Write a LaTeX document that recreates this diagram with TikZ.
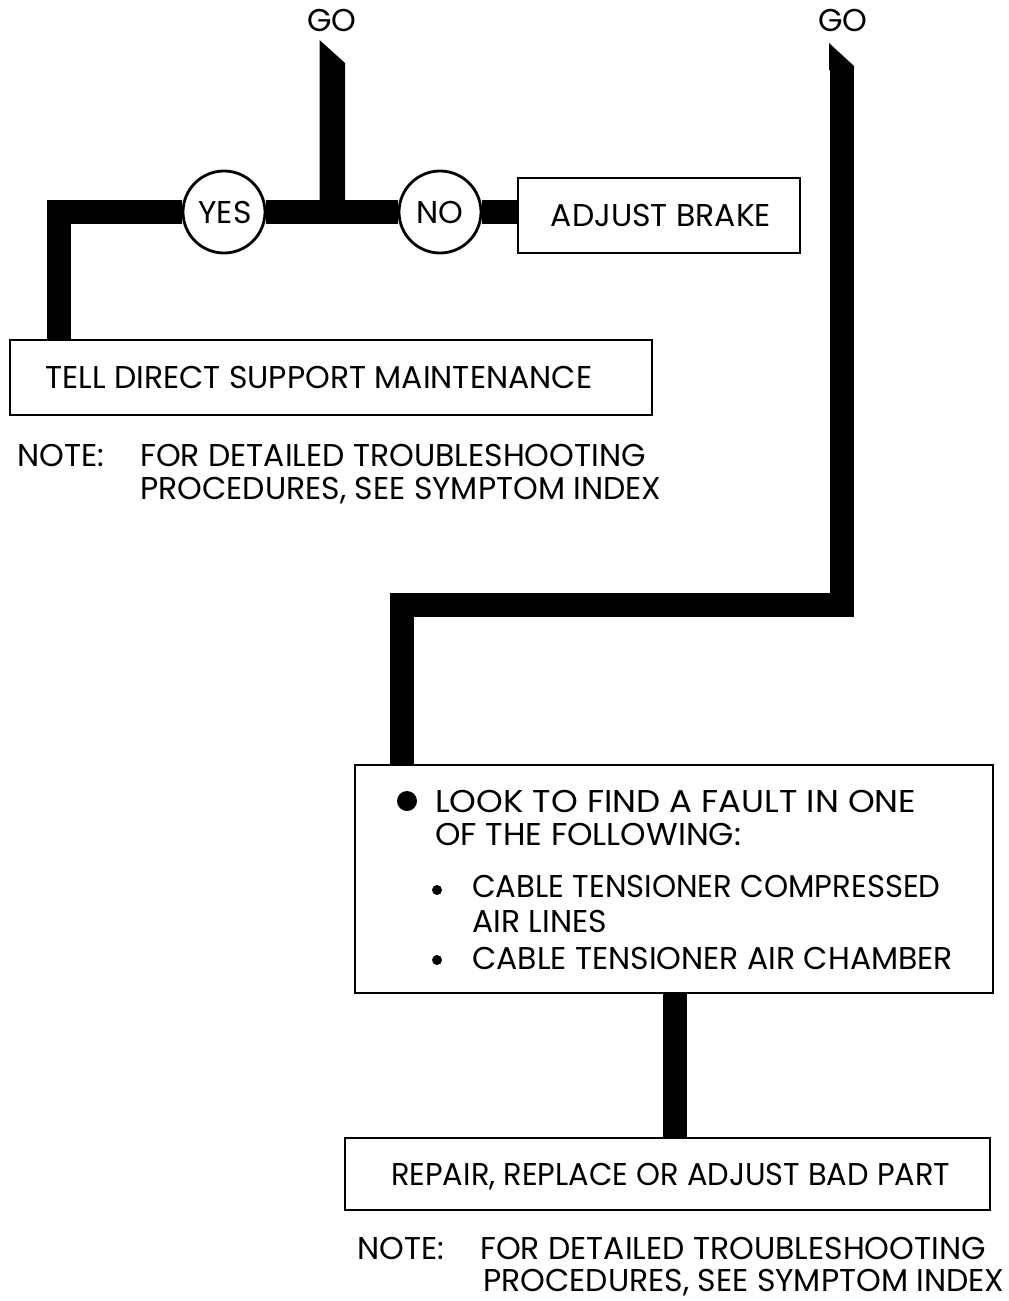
\documentclass[tikz,border=0pt]{standalone}
\usepackage{fontspec}
\setmainfont{Poppins}
\usetikzlibrary{backgrounds}
\begin{document}
\begin{tikzpicture}[x=1pt,y=-1pt,
  boxnode/.style={draw, line width=2.8pt, fill=white, inner sep=0pt, rectangle},
  circnode/.style={draw, line width=2.8pt, fill=white, circle, minimum size=82pt, inner sep=0pt},
  conn/.style={line width=24pt, line join=miter, line cap=butt},
  txt/.style={inner sep=0pt, font=\fontsize{31.5}{36}\selectfont},
  bigdot/.style={fill, circle, inner sep=0pt, minimum size=20pt},
  smalldot/.style={fill, circle, inner sep=0pt, minimum size=10pt}]
\useasboundingbox (0,0) rectangle (1009,1301);

% boxes
\node[boxnode, minimum width=282pt, minimum height=75pt] (adj) at (659,215.5) {};
\node[boxnode, minimum width=642pt, minimum height=75pt] (tell) at (331,377.5) {};
\node[boxnode, minimum width=638pt, minimum height=228pt] (look) at (674,879) {};
\node[boxnode, minimum width=645pt, minimum height=72pt] (repair) at (667.5,1174) {};
\node[circnode] (yes) at (224,212) {};
\node[circnode] (no) at (440,212) {};

% connectors
\coordinate (lc) at (59,212);
\coordinate (g1a) at (319.5,40);
\coordinate (g1b) at (345,63);
\coordinate (g1c) at (345,212);
\coordinate (g1d) at (319.5,212);
\coordinate (g2a) at (829,43);
\coordinate (g2b) at (854,66);
\coordinate (g2c) at (854,70);
\coordinate (g2d) at (829,70);
\coordinate (g2top) at (841.5,66);
\coordinate (g2turn) at (841.5,605);
\coordinate (g2bend) at (402,605);
\begin{scope}[on background layer]
\draw[conn] (tell.north -| lc) -- (lc) -- (yes) -- (no) -- (adj.west |- no);
\fill (g1a) -- (g1b) -- (g1c) -- (g1d) -- cycle;
\fill (g2a) -- (g2b) -- (g2c) -- (g2d) -- cycle;
\draw[conn] (g2top) -- (g2turn) -- (g2bend) -- (g2bend |- look.north);
\draw[conn] (look.south -| 675,0) -- (repair.north -| 675,0);
\end{scope}

% texts
\node[txt, anchor=base] (go1) at (332,31) {GO};
\node[txt, anchor=base] (go2) at (843,31) {GO};
\node[txt, anchor=base] (yest) at (225,223) {YES};
\node[txt, anchor=base] (not) at (440,223) {NO};
\node[txt, anchor=base] (adjt) at (661,226) {ADJUST BRAKE};
\node[txt, anchor=base west] (tellt) at (45,388) {TELL DIRECT SUPPORT MAINTENANCE};
\node[txt, anchor=base west] (n1a) at (17,466) {NOTE:};
\node[txt, anchor=base west] (n1b) at (140,466) {FOR DETAILED TROUBLESHOOTING};
\node[txt, anchor=base west] (n1c) at (140,499) {PROCEDURES, SEE SYMPTOM INDEX};
\node[bigdot] (bd) at (407,801) {};
\node[txt, anchor=base west] (l1) at (435,812) {\scalebox{1.08}[1]{LOOK TO FIND A FAULT IN ONE}};
\node[txt, anchor=base west] (l2) at (435,845) {\scalebox{1.03}[1]{OF THE FOLLOWING:}};
\node[smalldot] (sd1) at (437,890) {};
\node[txt, anchor=base west] (l3) at (472,897) {\scalebox{0.975}[1]{CABLE TENSIONER COMPRESSED}};
\node[txt, anchor=base west] (l4) at (472,932) {AIR LINES};
\node[smalldot] (sd2) at (437,960) {};
\node[txt, anchor=base west] (l5) at (472,969) {CABLE TENSIONER AIR CHAMBER};
\node[txt, anchor=base west] (rt) at (391,1185) {\scalebox{0.967}[1]{REPAIR, REPLACE OR ADJUST BAD PART}};
\node[txt, anchor=base west] (n2a) at (357,1259) {NOTE:};
\node[txt, anchor=base west] (n2b) at (480,1259) {FOR DETAILED TROUBLESHOOTING};
\node[txt, anchor=base west] (n2c) at (483,1291) {PROCEDURES, SEE SYMPTOM INDEX};
\end{tikzpicture}
\end{document}
